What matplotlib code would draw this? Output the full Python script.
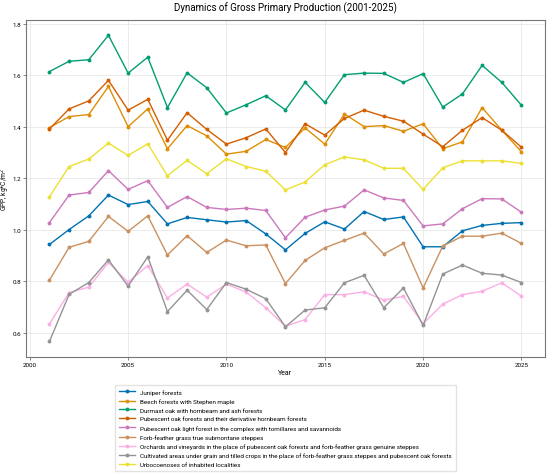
import numpy as np
import matplotlib
matplotlib.use("Agg")
import matplotlib.pyplot as plt

years = list(range(2001, 2026))

juniper = [0.943, 1.001, 1.054, 1.135, 1.098, 1.110, 1.023, 1.048, 1.039, 1.030, 1.036, 0.984,
           0.922, 0.986, 1.031, 1.003, 1.071, 1.040, 1.050, 0.934, 0.934, 0.996, 1.017, 1.025, 1.028]
beech = [1.397, 1.440, 1.448, 1.557, 1.401, 1.470, 1.315, 1.405, 1.365, 1.294, 1.305, 1.351,
         1.320, 1.396, 1.333, 1.450, 1.401, 1.405, 1.383, 1.412, 1.315, 1.342, 1.475, 1.387, 1.303]
durmast = [1.615, 1.655, 1.661, 1.756, 1.609, 1.671, 1.475, 1.610, 1.552, 1.454, 1.486, 1.521,
           1.466, 1.573, 1.495, 1.603, 1.609, 1.608, 1.573, 1.607, 1.477, 1.528, 1.639, 1.573, 1.484]
pubescent = [1.392, 1.470, 1.501, 1.581, 1.465, 1.507, 1.348, 1.455, 1.390, 1.333, 1.358, 1.392,
             1.300, 1.412, 1.368, 1.433, 1.465, 1.441, 1.422, 1.372, 1.323, 1.387, 1.436, 1.387, 1.321]
light_forest = [1.028, 1.135, 1.145, 1.230, 1.157, 1.191, 1.087, 1.129, 1.087, 1.079, 1.084, 1.075,
                0.969, 1.049, 1.077, 1.092, 1.155, 1.124, 1.114, 1.015, 1.023, 1.082, 1.121, 1.120, 1.068]
steppes = [0.804, 0.932, 0.955, 1.052, 0.994, 1.054, 0.902, 0.977, 0.912, 0.960, 0.938, 0.941,
           0.791, 0.881, 0.930, 0.959, 0.987, 0.906, 0.947, 0.774, 0.937, 0.975, 0.975, 0.987, 0.947]
orchards = [0.634, 0.756, 0.777, 0.873, 0.796, 0.861, 0.735, 0.789, 0.738, 0.789, 0.758, 0.697,
            0.625, 0.651, 0.748, 0.748, 0.759, 0.727, 0.741, 0.635, 0.711, 0.748, 0.761, 0.794, 0.742]
cultivated = [0.566, 0.749, 0.795, 0.883, 0.781, 0.895, 0.682, 0.765, 0.690, 0.795, 0.769, 0.732,
              0.623, 0.688, 0.697, 0.794, 0.823, 0.697, 0.774, 0.628, 0.828, 0.863, 0.831, 0.824, 0.795]
urban = [1.128, 1.246, 1.275, 1.337, 1.289, 1.334, 1.210, 1.270, 1.218, 1.276, 1.246, 1.228,
         1.155, 1.186, 1.253, 1.283, 1.272, 1.239, 1.239, 1.157, 1.241, 1.268, 1.268, 1.268, 1.258]

labels = [
    "Juniper forests",
    "Beech forests with Stephen maple",
    "Durmast oak with hornbeam and ash forests",
    "Pubescent oak forests and their derivative hornbeam forests",
    "Pubescent oak light forest in the complex with tomillares and savannoids",
    "Forb-feather grass true submontane steppes",
    "Orchards and vineyards in the place of pubescent oak forests and forb-feather grass genuine steppes",
    "Cultivated areas under grain and tilled crops in the place of forb-feather grass steppes and pubescent oak forests",
    "Urbocoenoses of inhabited localities",
]
series = [juniper, beech, durmast, pubescent, light_forest, steppes, orchards, cultivated, urban]
colors = ["#0173b2", "#de8f05", "#029e73", "#d55e00", "#cc78bc",
          "#ca9161", "#fbafe4", "#949494", "#ece133"]

plt.rcParams['font.family'] = ['Roboto', 'DejaVu Sans']

fig = plt.figure(figsize=(5.5, 4.77), dpi=100)
ax = fig.add_axes([0.047, 0.25, 0.944, 0.706])

for vals, lab, c in zip(series, labels, colors):
    ax.plot(years, vals, color=c, lw=1.0, marker='o', ms=1.8, label=lab)

ax.set_xticks([2000, 2005, 2010, 2015, 2020, 2025])
ax.set_yticks([0.6, 0.8, 1.0, 1.2, 1.4, 1.6, 1.8])
ax.set_yticklabels(["0.6", "0.8", "1.0", "1.2", "1.4", "1.6", "1.8"])
ax.tick_params(labelsize=4.5, length=2, width=0.5, color='#555555', pad=1.5)
ax.grid(color='#e8e8e8', lw=0.6)
for s in ax.spines.values():
    s.set_color('#777777')
    s.set_linewidth(0.8)

ax.set_xlabel("Year", fontsize=5, labelpad=2)
ax.set_ylabel("GPP, kg*C/m$^2$", fontsize=4.8)
ax.yaxis.set_label_coords(-0.026, 0.5)
ax.set_title("Dynamics of Gross Primary Production (2001-2025)", fontsize=7, pad=7)

ax.legend(loc='upper center', bbox_to_anchor=(0.5, -0.075), fontsize=4.5,
          frameon=True, edgecolor='#dddddd', fancybox=False, handlelength=2.6,
          labelspacing=0.55, borderpad=0.6)

fig.savefig("out.png", dpi=100)
